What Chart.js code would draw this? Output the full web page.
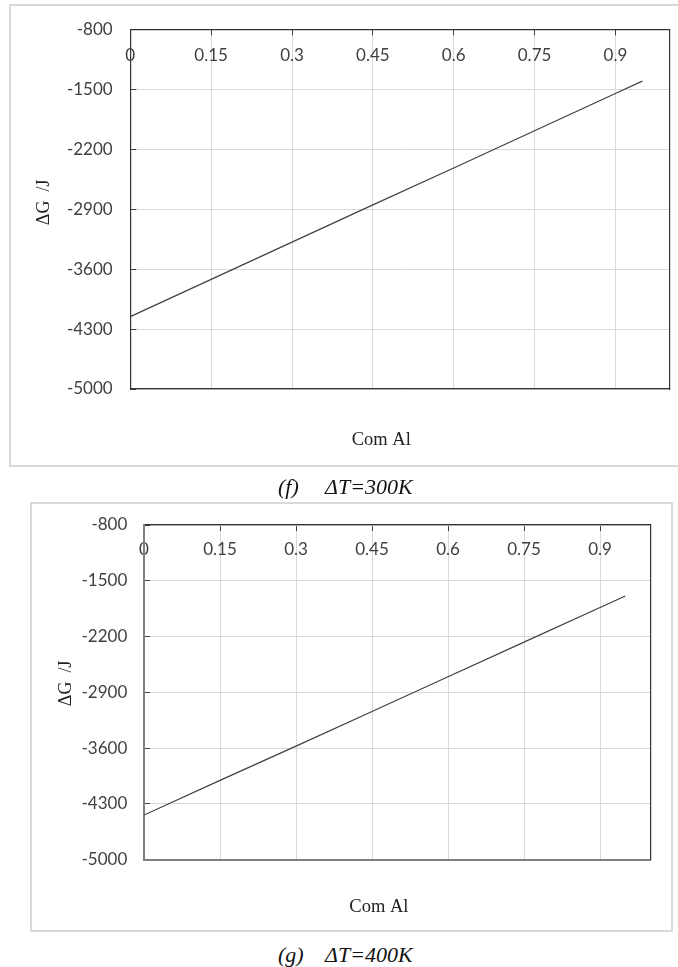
<!DOCTYPE html>
<html>
<head>
<meta charset="utf-8">
<script src="https://cdn.jsdelivr.net/npm/chart.js@4/dist/chart.umd.min.js"></script>
<style>
  html, body { margin: 0; padding: 0; background: #fff; width: 678px; height: 967px; overflow: hidden; position: relative; }
  .frame { position: absolute; box-sizing: border-box; border: 2px solid #d9d9d9; background: #fff; }
  canvas { position: absolute; left: 0; }
  .cap { position: absolute; font-family: "Liberation Serif", "Times New Roman", serif; font-style: italic; font-size: 22px; line-height: 22px; color: #111; white-space: nowrap; }
</style>
</head>
<body>
<div class="frame" style="left:9px; top:4px; width:700px; height:463px;"></div>
<div class="frame" style="left:29.5px; top:501.7px; width:643px; height:430px;"></div>
<canvas id="c1" width="678" height="470" style="top:0px;"></canvas>
<canvas id="c2" width="678" height="445" style="top:495px;"></canvas>
<span class="cap" style="left:278px; top:476px;">(f)</span>
<span class="cap" style="left:325px; top:476px;">ΔT=300K</span>
<span class="cap" style="left:278px; top:944px;">(g)</span>
<span class="cap" style="left:325px; top:944px;">ΔT=400K</span>
<script>
// ---- data ----
const comAl = [0, 0.15, 0.3, 0.45, 0.6, 0.75, 0.9, 0.95];
const dG300 = [-4155, -3720, -3285, -2850, -2420, -1985, -1550, -1405];
const dG400 = [-4440, -4005, -3575, -3140, -2705, -2270, -1835, -1690];
const xTicks = [0, 0.15, 0.3, 0.45, 0.6, 0.75, 0.9];
const xTickLabels = ['0', '0.15', '0.3', '0.45', '0.6', '0.75', '0.9'];
const yTicks = [-800, -1500, -2200, -2900, -3600, -4300, -5000];
const yTickLabels = ['-800', '-1500', '-2200', '-2900', '-3600', '-4300', '-5000'];
const xTitle = 'Com Al';
const yTitle = 'ΔG  /J';

Chart.defaults.font.family = 'Lato, "Liberation Sans", sans-serif';

function noPad(s) { s.paddingTop = 0; s.paddingBottom = 0; s.paddingLeft = 0; s.paddingRight = 0; }

function makeChart(id, values, g) {
  const data = comAl.map((x, i) => ({x: x, y: values[i]}));
  return new Chart(document.getElementById(id), {
    type: 'line',
    data: { datasets: [{ data: data, borderColor: '#404040', borderWidth: 1.2, pointRadius: 0, tension: 0, fill: false }] },
    options: {
      responsive: false,
      animation: false,
      devicePixelRatio: 1,
      events: [],
      layout: { padding: { left: g.padL, top: g.padT, right: g.padR, bottom: g.padB } },
      plugins: { legend: { display: false }, tooltip: { enabled: false }, title: { display: false } },
      scales: {
        x: {
          type: 'linear', position: 'top', min: 0, max: 1,
          afterBuildTicks: s => { s.ticks = xTicks.map(v => ({value: v})); },
          afterFit: s => { s.height = 0; noPad(s); },
          ticks: { mirror: true, padding: g.xTickPad, color: '#404040', font: { size: 17 },
                   callback: v => xTickLabels[xTicks.indexOf(v)], maxRotation: 0, autoSkip: false },
          grid: { color: '#d9d9d9', lineWidth: 1, tickLength: -6, tickColor: '#404040', tickWidth: 1 },
          border: { display: true, color: '#333', width: 1.2 }
        },
        y: {
          type: 'linear', position: 'left', min: -5000, max: -800,
          afterBuildTicks: s => { s.ticks = yTicks.slice().reverse().map(v => ({value: v})); },
          afterFit: s => { s.width = g.yW; noPad(s); },
          ticks: { padding: g.yTickPad, color: '#404040', font: { size: 17 },
                   callback: v => yTickLabels[yTicks.indexOf(v)], autoSkip: false },
          grid: { color: '#d9d9d9', lineWidth: 1, tickLength: -6, tickColor: '#404040', tickWidth: 1 },
          border: { display: true, color: g.leftColor, width: g.leftWidth },
          title: { display: true, text: g.yTitleText, color: '#222', padding: 0,
                   font: { family: '"Liberation Serif", "Times New Roman", serif', size: 18 } }
        },
        x2: {
          type: 'linear', position: 'bottom', min: 0, max: 1,
          afterFit: s => { s.height = g.x2H; noPad(s); },
          ticks: { display: false },
          grid: { display: false, drawTicks: false },
          border: { display: true, color: g.bottomColor, width: g.bottomWidth },
          title: { display: true, text: g.xTitleText, color: '#222', padding: 0,
                   font: { family: '"Liberation Serif", "Times New Roman", serif', size: 18.5 } }
        },
        y2: {
          type: 'linear', position: 'right', min: -5000, max: -800,
          afterFit: s => { s.width = 0; noPad(s); },
          ticks: { display: false },
          grid: { display: false, drawTicks: false },
          border: { display: true, color: '#333', width: 1.2 }
        }
      }
    }
  });
}

makeChart('c1', dG300, {
  padL: 33.2, yW: 97.1, padT: 29.3, padR: 8.7, padB: 18.9, x2H: 62.1,
  xTickPad: 16.1, yTickPad: 23.6,
  leftColor: '#333', leftWidth: 1.2, bottomColor: '#333', bottomWidth: 1.2,
  xTitleText: xTitle + '        ', yTitleText: '   ' + yTitle
});
makeChart('c2', dG400, {
  padL: 55.2, yW: 88.8, padT: 30, padR: 27.3, padB: 22.2, x2H: 58.1,
  xTickPad: 14.8, yTickPad: 22.7,
  leftColor: '#7f7f7f', leftWidth: 2, bottomColor: '#7f7f7f', bottomWidth: 2,
  xTitleText: xTitle + '        ', yTitleText: '    ' + yTitle
});
</script>
</body>
</html>
